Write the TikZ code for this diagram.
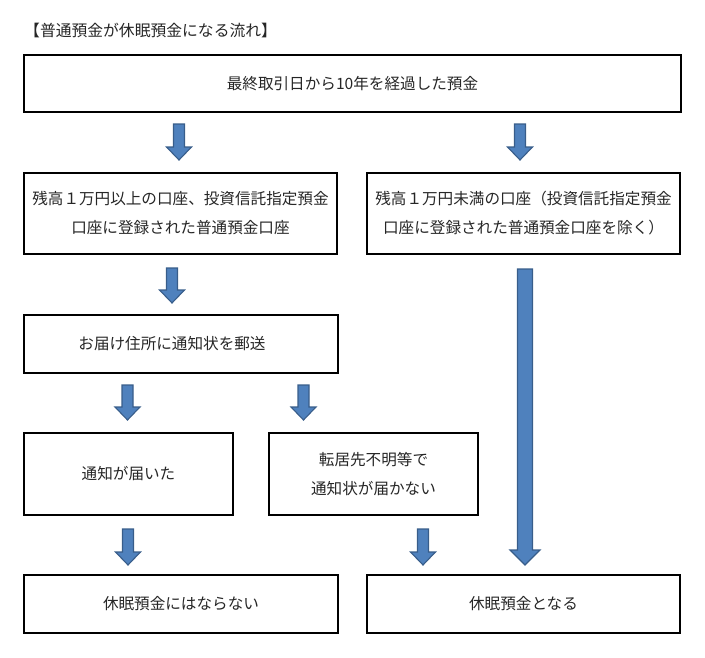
\documentclass[tikz,border=0pt]{standalone}
\usepackage{fontspec}
\setmainfont{Noto Sans CJK JP}
\definecolor{arrfill}{HTML}{4F81BD}
\definecolor{arrdraw}{HTML}{385D8A}
\tikzset{
  box/.style={draw=black, line width=1.6pt, rectangle, inner sep=0pt, align=center,
    font=\fontsize{15.6}{29}\selectfont, text=black!85},
  blockarrow/.style={fill=arrfill, draw=arrdraw, line width=1.1pt, line join=miter},
}
% x, top y, tip y, half shaft, half head, head length
\newcommand\blkarrow[6]{%
  \filldraw[blockarrow] ({#1-#4},#2) -- ({#1+#4},#2) -- ({#1+#4},{#3-#6}) -- ({#1+#5},{#3-#6})
    -- (#1,#3) -- ({#1-#5},{#3-#6}) -- ({#1-#4},{#3-#6}) -- cycle;}
\begin{document}
\begin{tikzpicture}[x=1pt,y=-1pt]
\useasboundingbox (0,0) rectangle (705,657);
\node[anchor=west, font=\fontsize{15.8}{18}\selectfont, text=black!85, inner sep=0pt] (title) at (24,30) {【普通預金が休眠預金になる流れ】};

\node[box, minimum width=657pt, minimum height=57pt] (b1) at (352.5,83.5) {最終取引日から10年を経過した預金};
\node[box, minimum width=313pt, minimum height=81pt, text depth=2pt] (b2) at (180.5,213.5) {残高１万円以上の口座、投資信託指定預金\\口座に登録された普通預金口座};
\node[box, minimum width=313pt, minimum height=81pt, text depth=2pt] (b3) at (523.5,213.5) {残高１万円未満の口座（投資信託指定預金\\口座に登録された普通預金口座を除く）};
\node[box, minimum width=314pt, minimum height=58pt] (b4) at (181,344) {};
\node[font=\fontsize{15.6}{29}\selectfont, text=black!85, inner sep=0pt] (t4) at (172,344) {お届け住所に通知状を郵送};
\node[box, minimum width=209pt, minimum height=82pt] (b5) at (128.5,474) {通知が届いた};
\node[box, minimum width=209pt, minimum height=82pt] (b6) at (373.5,474) {転居先不明等で\\通知状が届かない};
\node[box, minimum width=314pt, minimum height=58pt] (b7) at (181,604) {休眠預金にはならない};
\node[box, minimum width=313pt, minimum height=58pt] (b8) at (523.5,604) {休眠預金となる};

\blkarrow{179}{124}{160}{5.5}{12.5}{13}
\blkarrow{520}{124}{160}{5.5}{12.5}{13}
\blkarrow{172}{268}{303}{5.5}{12.5}{13}
\blkarrow{127.5}{385}{420}{5.5}{12.5}{13}
\blkarrow{303.5}{385}{420}{5.5}{12.5}{13}
\blkarrow{128}{529}{565}{5.5}{12.5}{13}
\blkarrow{423}{529}{565}{5.5}{12.5}{13}
\blkarrow{525}{269}{565}{7.5}{15}{15}
\end{tikzpicture}
\end{document}
